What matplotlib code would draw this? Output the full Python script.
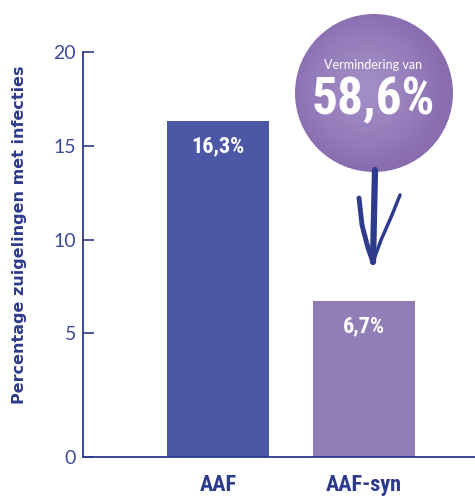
import numpy as np
import matplotlib
matplotlib.use('Agg')
import matplotlib.pyplot as plt
from matplotlib.patches import Circle

categories = ['AAF', 'AAF-syn']
values = [16.3, 6.7]
value_labels = ['16,3%', '6,7%']
reduction_label = '58,6%'
yticks = [0, 5, 10, 15, 20]

navy = '#2E3A8C'
bar_colors = ['#4C57A5', '#917EB6']
narrow = ['Roboto Condensed', 'DejaVu Sans']

# axis is stretched below 5 (0 sits lower than a linear axis would put it)
def fwd(y):
    y = np.asarray(y, dtype=float)
    return np.where(y >= 5, y, 5 - (5 - y) * 124 / 94)

def inv(u):
    u = np.asarray(u, dtype=float)
    return np.where(u >= 5, u, 5 - (5 - u) * 94 / 124)

fig = plt.figure(figsize=(4.75, 4.98), dpi=100)
ax = fig.add_axes([83 / 475, 41 / 498, 1 - 83 / 475, 405 / 498])
ax.set_yscale('function', functions=(fwd, inv))

x = np.arange(len(categories))
bars = ax.bar(x, values, width=0.70, color=bar_colors, zorder=2)
ax.set_xlim(-0.925, 1.76)
ax.set_ylim(0, 20)

for xi, v, lab in zip(x, values, value_labels):
    ax.annotate(lab, (xi, v), xytext=(0, -18), textcoords='offset points',
                ha='center', va='center', color='white', fontsize=16,
                fontweight='bold', family=narrow)

ax.set_yticks(yticks)
ax.set_yticklabels([str(t) for t in yticks])
ax.yaxis.set_minor_locator(matplotlib.ticker.NullLocator())
ax.tick_params(axis='y', direction='in', length=8, width=1.2, color=navy,
               labelcolor='#3D4A9A', labelsize=14, pad=5)
for t in ax.get_yticklabels():
    t.set_family(['Lato', 'DejaVu Sans'])
    t.set_fontweight('normal')
ax.set_xticks(x)
ax.set_xticklabels(categories)
ax.tick_params(axis='x', length=0, pad=12, labelcolor=navy, labelsize=16)
for t in ax.get_xticklabels():
    t.set_fontweight('bold')
    t.set_family(narrow)

for s in ['top', 'right']:
    ax.spines[s].set_visible(False)
for s in ['left', 'bottom']:
    ax.spines[s].set_color(navy)
    ax.spines[s].set_linewidth(1.3)

fig.text(20 / 475, 1 - 235 / 498, 'Percentage zuigelingen met infecties',
         rotation=90, ha='center', va='center', color=navy,
         fontsize=11.5, fontweight='bold')

# overlay in pixel units for the circle badge and arrow
ov = fig.add_axes([0, 0, 1, 1], zorder=5)
ov.set_xlim(0, 475)
ov.set_ylim(498, 0)
ov.axis('off')

cx, cy, r = 374, 93, 79
gx, gy = np.meshgrid(np.linspace(-1, 1, 200), np.linspace(-1, 1, 200))
d = np.clip(np.hypot(gx + 0.1, gy + 0.05), 0, 1)
c0 = np.array([0.64, 0.56, 0.78])
c1 = np.array([0.54, 0.43, 0.69])
img = c0 + (c1 - c0) * d[..., None] ** 1.3
im = ov.imshow(img, extent=(cx - r, cx + r, cy + r, cy - r), zorder=1)
circ = Circle((cx, cy), r, transform=ov.transData, facecolor='none', edgecolor='none')
ov.add_patch(circ)
im.set_clip_path(circ)

ov.text(cx - 1, 65, 'Vermindering van', color='white', fontsize=9,
        family=['Lato', 'DejaVu Sans'], ha='center', va='center', zorder=3)
ov.text(cx - 1, 100, reduction_label, color='white', fontsize=37,
        fontweight='bold', family=narrow, ha='center', va='center', zorder=3)

# hand-drawn arrow
ov.plot([375, 374, 373], [170, 215, 262], color=navy, lw=4.5,
        solid_capstyle='round', zorder=2)
ov.plot([359, 362, 368, 373], [198, 225, 248, 262], color=navy, lw=3.5,
        solid_capstyle='round', zorder=2)
ov.plot([400, 392, 381, 373], [195, 215, 240, 262], color=navy, lw=2.5,
        solid_capstyle='round', zorder=2)

fig.savefig('out.png', dpi=100)
